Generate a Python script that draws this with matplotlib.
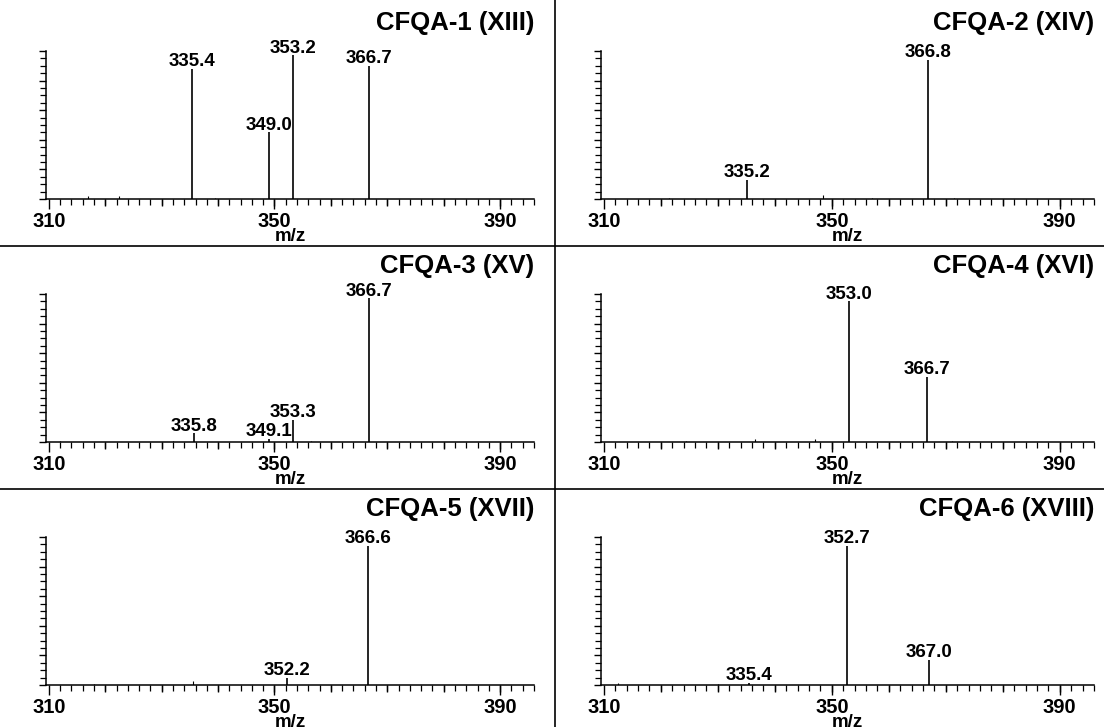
import matplotlib
matplotlib.use("Agg")
import matplotlib.pyplot as plt
from matplotlib.lines import Line2D
from matplotlib.ticker import MultipleLocator, FixedLocator

plt.rcParams["font.family"] = ["Liberation Sans", "DejaVu Sans"]
plt.rcParams["font.weight"] = "bold"

# --- spectra data (m/z, relative intensity %) ---
titles = ["CFQA-1 (XIII)", "CFQA-2 (XIV)", "CFQA-3 (XV)",
          "CFQA-4 (XVI)", "CFQA-5 (XVII)", "CFQA-6 (XVIII)"]

mz_1 = [335.4, 349.0, 353.2, 366.7]
int_1 = [88, 45, 97, 90]
mz_2 = [335.2, 366.8]
int_2 = [13, 94]
mz_3 = [335.8, 349.1, 353.3, 366.7]
int_3 = [6, 2, 15, 97]
mz_4 = [353.0, 366.7]
int_4 = [95, 44]
mz_5 = [352.2, 366.6]
int_5 = [5, 94]
mz_6 = [335.4, 352.7, 367.0]
int_6 = [1.5, 94, 17]

# small unlabelled peaks near the baseline
minor_mz = [[317.0, 322.5, 339.5], [321.5, 348.5, 357.0, 371.5],
            [312.0, 332.0, 356.5], [324.5, 336.5, 347.0, 371.0],
            [335.5, 318.0], [312.5, 330.0]]
minor_int = [[2, 2, 1], [1, 3, 1, 1],
             [1, 1, 1], [1, 2, 2, 1],
             [3, 1], [1.5, 1]]

peaks_mz = [mz_1, mz_2, mz_3, mz_4, mz_5, mz_6]
peaks_int = [int_1, int_2, int_3, int_4, int_5, int_6]

x_labels = [310, 350, 390]

fig = plt.figure(figsize=(11.04, 7.27), dpi=100)

W, H = 1104, 727
col_x = [46, 601]
col_w = [488, 493]
row_base = [199, 442, 685]
ax_h = 148

for k in range(6):
    r, c = divmod(k, 2)
    ax = fig.add_axes([col_x[c] / W, 1 - row_base[r] / H, col_w[c] / W, ax_h / H])

    ax.vlines(peaks_mz[k], 0, peaks_int[k], color="black", lw=1.2)
    ax.vlines(minor_mz[k], 0, minor_int[k], color="black", lw=0.8)
    for m, h in zip(peaks_mz[k], peaks_int[k]):
        ax.annotate(f"{m:.1f}", xy=(m, h), xytext=(0, -1), textcoords="offset points",
                    ha="center", va="bottom", fontsize=13.5, fontweight="bold")

    ax.set_xlim(309.5, 396)
    ax.set_ylim(0, 100)
    for s in ["top", "right"]:
        ax.spines[s].set_visible(False)
    ax.spines["left"].set_linewidth(1.1)
    ax.spines["bottom"].set_linewidth(1.1)

    ax.xaxis.set_major_locator(FixedLocator(x_labels))
    ax.xaxis.set_minor_locator(MultipleLocator(2))
    ax.set_xticklabels([str(v) for v in x_labels], fontsize=14.5, fontweight="bold")
    ax.tick_params(axis="x", which="major", length=7, width=1.0, pad=2.5)
    ax.tick_params(axis="x", which="minor", length=4, width=0.9)
    # extra medium ticks every 10 units
    ax.vlines(range(320, 391, 10), -0.045, 0, transform=ax.get_xaxis_transform(),
              color="black", lw=1.0, clip_on=False)

    ax.yaxis.set_major_locator(MultipleLocator(20))
    ax.yaxis.set_minor_locator(MultipleLocator(5))
    ax.set_yticklabels([])
    ax.tick_params(axis="y", which="major", length=5, width=1.0)
    ax.tick_params(axis="y", which="minor", length=4, width=0.9)

    ax.set_xlabel("m/z", fontsize=13.5, fontweight="bold", labelpad=-2.5)
    ax.set_title(titles[k], loc="right", fontsize=18.5, fontweight="bold", pad=15)

# panel separators
fig.add_artist(Line2D([555 / W, 555 / W], [0, 1], color="black", lw=1.2))
for yy in [246, 489]:
    fig.add_artist(Line2D([0, 1], [1 - yy / H, 1 - yy / H], color="black", lw=1.2))

fig.savefig("out.png", dpi=100)
